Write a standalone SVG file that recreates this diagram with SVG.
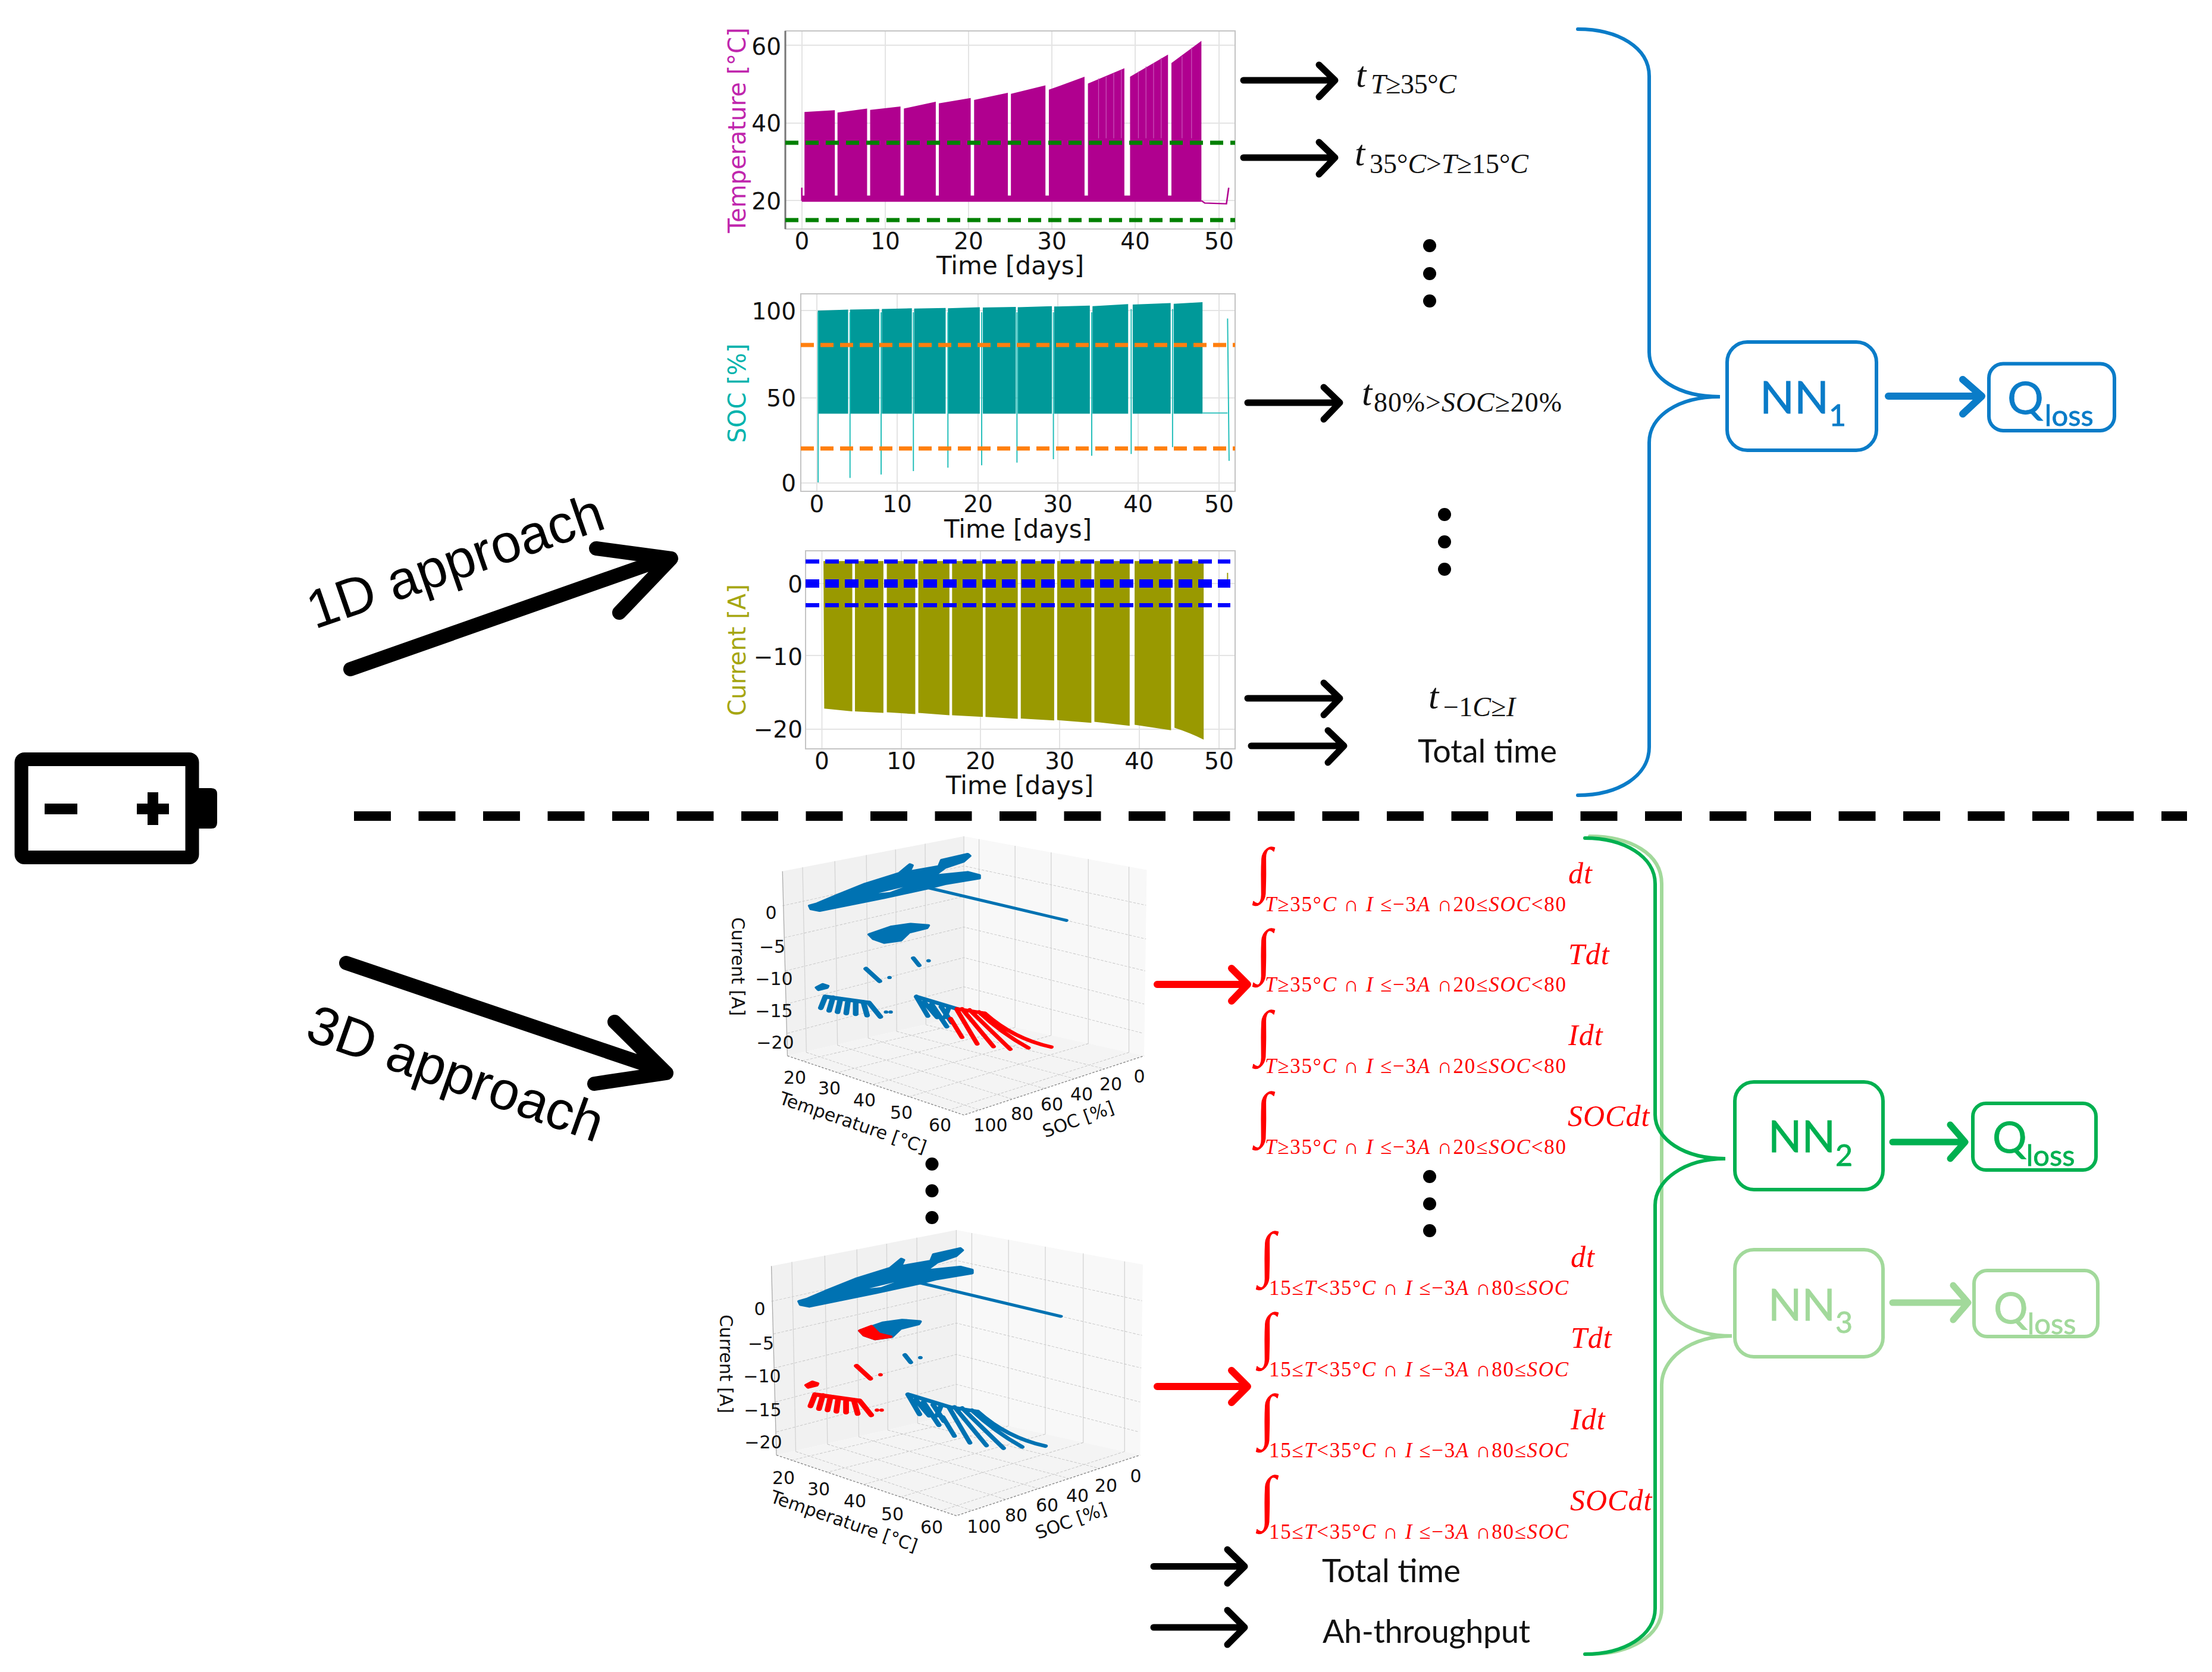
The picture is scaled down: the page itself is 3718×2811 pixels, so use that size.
<svg xmlns="http://www.w3.org/2000/svg" xmlns:xlink="http://www.w3.org/1999/xlink" width="3718" height="2811" viewBox="0 0 3718 2811">
<style>
text{fill:#111;font-family:"DejaVu Sans",sans-serif}
.tk{font-size:39px}
.tkm{text-anchor:middle}
.tke{text-anchor:end}
.ax{font-size:42px;text-anchor:middle}
.yl{font-size:40px;text-anchor:middle}
.t3{font-size:30px;text-anchor:middle}
.l3{font-size:30px}
.grid{stroke:#e4e4e4;stroke-width:2;fill:none}
.frame{stroke:#c4c4c4;stroke-width:2;fill:none}
.dg{stroke:#008000;stroke-width:7;stroke-dasharray:22 12;fill:none}
.do{stroke:#ff7f0e;stroke-width:7;stroke-dasharray:22 11;fill:none}
.db{stroke:#0000ff;stroke-width:7;stroke-dasharray:23 10;fill:none}
.cf{fill:currentColor;stroke:currentColor;stroke-width:10;stroke-linejoin:round}
.cd{fill:currentColor;stroke:none}
.cs{stroke:currentColor;fill:none;stroke-linecap:round;stroke-linejoin:round}
.blue{color:#0072b2}
.red{color:#ff0000}
.g3{stroke:#c6c6c6;stroke-width:2;fill:none;stroke-dasharray:7 4}
.v3{stroke:#d4d4d4;stroke-width:2;fill:none}
.arr{fill:none;stroke-linecap:round;stroke-linejoin:round}
.ak{stroke:#000;stroke-width:11}
.ar{stroke:#ff0000;stroke-width:12}
.brace{fill:none;stroke-linecap:round;stroke-width:6}
.box{fill:none;stroke-width:6}
.cb{color:#0a7cc8}
.cg{color:#00b050}
.cl{color:#a2d99b}
.box,.brace{stroke:currentColor}
.nt{fill:currentColor;stroke:currentColor;stroke-width:.8;font-family:Lato,"Liberation Sans",sans-serif}
.m{fill:#ff0000;font-family:"Liberation Serif","DejaVu Serif",serif}
.mk{fill:#111;font-family:"Liberation Serif","DejaVu Serif",serif}
.i{font-style:italic}
.int{font-size:102px;font-family:"Liberation Serif","DejaVu Serif",serif;fill:#ff0000}
.sub{font-size:35px}
.rv{font-size:50px;font-style:italic;letter-spacing:1px}
.tv{font-size:62px;font-style:italic}
.ts{font-size:46px}
.cal{font-family:Lato,"Liberation Sans",sans-serif;font-size:54px}
.ap{font-family:"Liberation Sans",Arial,sans-serif;font-size:91px;fill:#000}
</style>
<defs>
<g id="pane">
<polygon points="212,190 690,58 690,735 225,885" fill="#f1f1f1"/>
<polygon points="690,58 1172,185 1165,885 690,735" fill="#f8f8f8"/>
<polygon points="225,885 690,735 1165,885 690,1108" fill="#f4f4f4"/>
<path class="v3" d="M265 175L275 872M350 152L357 845M433 129L438 818M510 108L513 793M588 86L590 768M690 58V735M730 69V748M825 94V778M920 119V808M1018 144V839M1125 173V872"/>
<path class="g3" d="M212 320L690 170L1170 318M217 440L690 285L1170 445M220 565L690 400L1168 565M222 690L690 515L1165 690M225 800L690 625L1162 800"/>
<path class="g3" d="M275 872L731 1089M357 845L818 1048M438 818L902 1008M513 793L981 971M590 768L1060 934M730 748L264 904M825 778L357 948M920 808L450 993M1018 839L546 1039M1125 872L651 1089"/>
<path d="M225 885L690 1108L1165 885" fill="none" stroke="#8c8c8c" stroke-width="3" stroke-dasharray="6 4"/>
<path d="M212 190L225 885" fill="none" stroke="#aaa" stroke-width="2"/>
</g>
<g id="strip">
<path class="cf" d="M284 320L304 312L360 278L430 238L520 198L548 165L553 168L545 192L625 172L632 148L700 126L705 132L688 153L640 176L610 207L700 194L730 205L730 216L640 237L590 255L480 289L310 338L288 332Z"/>
<path fill="#f4f4f4" d="M465 272L530 250L495 268Z"/>
<line class="cs" x1="590" y1="250" x2="960" y2="375" stroke-width="11"/>
</g>
<path id="mid" class="cf" d="M441 428L500 399L550 389L596 394L592 403L545 420L523 450L480 458L452 444Z"/>
<path id="midtip" class="cf" d="M441 428L470 412L490 440L520 450L480 458L452 444Z"/>
<g id="bitsL">
<line class="cs" x1="432" y1="557" x2="468" y2="604" stroke-width="14"/>
<circle class="cd" cx="494" cy="590" r="6"/>
<path class="cf" d="M302 628L318 616L331 622L329 628L307 636Z"/>
</g>
<g id="bitsR">
<line class="cs" x1="557" y1="517" x2="572" y2="544" stroke-width="13"/>
<circle class="cd" cx="597" cy="527" r="6"/>
</g>
<g id="rakeL">
<path class="cs" stroke-width="15" d="M325 662L440 685M325 662L313 705M345 665L335 715M365 670L357 720M385 675L380 725M405 680L405 728M425 682L435 733M440 685L470 738"/>
<circle class="cd" cx="485" cy="720" r="6"/><circle class="cd" cx="497" cy="720" r="6"/>
</g>
<path id="rakeA" class="cs" stroke-width="14" d="M565 662L672 708M565 662L595 735M585 682L620 740M605 690L645 775M630 700L658 760M650 705L640 740"/>
<path id="rakeB" class="cs" stroke-width="13" d="M672 708L745 725M655 745L685 815M672 712L725 840M685 708L768 850M705 712L812 860M730 720Q790 800 860 855M745 725Q820 820 920 852"/>
</defs>

<rect width="3718" height="2811" fill="#fff"/>

<g id="battery">
<rect x="36" y="1276.5" width="287" height="165" rx="5" fill="none" stroke="#000" stroke-width="23"/>
<path d="M334 1325H355Q365 1325 365 1335V1383Q365 1393 355 1393H334Z" fill="#000"/>
<rect x="75" y="1351" width="55" height="18" fill="#000"/>
<rect x="230" y="1351" width="54" height="18" fill="#000"/>
<rect x="248" y="1332" width="18" height="55" fill="#000"/>
</g>

<g id="separator"><line x1="595" y1="1372" x2="3676" y2="1372" stroke="#000" stroke-width="16" stroke-dasharray="62 46.5"/></g>

<g id="label-1d"><text class="ap" transform="translate(529 1058) rotate(-19.1)">1D approach</text></g>
<g id="label-3d"><text class="ap" transform="translate(510 1747) rotate(19.5)">3D approach</text></g>

<g id="plot-temperature">
<path class="grid" d="M1348 52V385M1488 52V385M1628 52V385M1768 52V385M1908 52V385M2049 52V385M1320 76H2076M1320 207H2076M1320 337H2076"/>
<rect class="frame" x="1320" y="52" width="756" height="333"/>
<line x1="1320" y1="52" x2="1320" y2="385" stroke="#777" stroke-width="3"/>
<g transform="translate(1180 20) scale(.6378 .574)">
<path fill="#b0008f" d="M270 293L350 288V553H270ZM357 295L435 283V553H357ZM443 287L523 277V553H443ZM532 283L616 263V553H532ZM624 268L708 252V553H624ZM717 258L806 237V553H717ZM814 240L905 215V553H814ZM914 228L1008 190V553H914ZM1017 210L1113 165V553H1017ZM1128 190L1228 125V553H1128ZM1237 150L1316 85V553H1237ZM263 538H1316V556H263Z"/>
<path fill="none" stroke="#c850b8" stroke-width="2" d="M1045 195V370M1065 190V370M1085 180V370M1105 170V370M1150 175V370M1170 160V370M1190 150V370M1210 135V370M1265 130V370M1290 105V370"/>
<path fill="none" stroke="#b0008f" stroke-width="4" d="M263 515V553M1316 553L1325 560L1382 562L1388 515"/>
</g>
<line class="dg" x1="1320" y1="240" x2="2076" y2="240"/>
<line class="dg" x1="1320" y1="370" x2="2076" y2="370"/>
<text class="tk tke" x="1313" y="92">60</text><text class="tk tke" x="1313" y="221">40</text><text class="tk tke" x="1313" y="352">20</text>
<text class="tk tkm" x="1348" y="419">0</text><text class="tk tkm" x="1488" y="419">10</text><text class="tk tkm" x="1628" y="419">20</text><text class="tk tkm" x="1768" y="419">30</text><text class="tk tkm" x="1908" y="419">40</text><text class="tk tkm" x="2049" y="419">50</text>
<text class="ax" x="1698" y="461">Time [days]</text>
<text class="yl" style="fill:#c026ad" transform="translate(1253 219) rotate(-90)">Temperature [°C]</text>
</g>

<g id="plot-soc">
<path class="grid" d="M1373 494V826M1508 494V826M1644 494V826M1778 494V826M1913 494V826M2049 494V826M1346 522H2076M1346 669H2076M1346 812H2076"/>
<rect class="frame" x="1346" y="494" width="730" height="332"/>
<g transform="translate(1180 20) scale(.6378 .574)">
<path fill="#009999" d="M305 875L385 872V1177H305ZM390 872L467 870V1177H390ZM474 870L553 868V1177H474ZM559 869L642 867V1177H559ZM648 868L732 865V1177H648ZM740 866L827 864V1177H740ZM832 865L922 862V1177H832ZM928 863L1022 860V1177H928ZM1029 862L1123 856V1177H1029ZM1135 857L1235 853V1177H1135ZM1243 855L1319 850V1177H1243Z"/>
<path fill="none" stroke="#1fbdb8" stroke-width="3" d="M306 880V1378M390 880V1365M472 880V1355M557 880V1345M648 880V1335M737 880V1328M830 880V1320M926 880V1310M1027 880V1300M1131 870V1295M1240 870V1275M1319 1175H1385M1385 898L1389 1315"/>
</g>
<line class="do" x1="1346" y1="580" x2="2076" y2="580"/>
<line class="do" x1="1346" y1="754" x2="2076" y2="754"/>
<text class="tk tke" x="1338" y="537">100</text><text class="tk tke" x="1338" y="683">50</text><text class="tk tke" x="1338" y="826">0</text>
<text class="tk tkm" x="1373" y="861">0</text><text class="tk tkm" x="1508" y="861">10</text><text class="tk tkm" x="1644" y="861">20</text><text class="tk tkm" x="1778" y="861">30</text><text class="tk tkm" x="1913" y="861">40</text><text class="tk tkm" x="2049" y="861">50</text>
<text class="ax" x="1711" y="904">Time [days]</text>
<text class="yl" style="fill:#00b3ad" transform="translate(1253 661) rotate(-90)">SOC [%]</text>
</g>

<g id="plot-current">
<path class="grid" d="M1381.5 926V1259M1515 926V1259M1648 926V1259M1781 926V1259M1915 926V1259M2049 926V1259M1354 981H2076M1354 1102H2076M1354 1226H2076"/>
<rect class="frame" x="1354" y="926" width="722" height="333"/>
<g transform="translate(1180 900) scale(.6378 .3318)">
<path fill="#999900" d="M320 130H396V892L322 878ZM403 130H478V900L403 892ZM487 130H562V906L487 897ZM570 130H652V912L570 900ZM659 130H740V920L659 912ZM747 130H832V930L747 920ZM840 130H928V938L840 928ZM936 130H1026V950L936 936ZM1034 130H1127V965L1034 945ZM1140 130H1236V988L1140 960ZM1245 130H1322V1035Q1285 1000 1245 975Z"/>
<line x1="1385" y1="190" x2="1385" y2="265" stroke="#999900" stroke-width="3"/>
</g>
<line class="db" x1="1354" y1="944" x2="2068" y2="944"/>
<line class="db" x1="1354" y1="981" x2="2068" y2="981" style="stroke-width:14"/>
<line class="db" x1="1354" y1="1017.5" x2="2068" y2="1017.5"/>
<text class="tk tke" x="1349" y="996">0</text><text class="tk tke" x="1349" y="1118">−10</text><text class="tk tke" x="1349" y="1240">−20</text>
<text class="tk tkm" x="1381.5" y="1293">0</text><text class="tk tkm" x="1515" y="1293">10</text><text class="tk tkm" x="1648" y="1293">20</text><text class="tk tkm" x="1781" y="1293">30</text><text class="tk tkm" x="1915" y="1293">40</text><text class="tk tkm" x="2049" y="1293">50</text>
<text class="ax" x="1714" y="1335">Time [days]</text>
<text class="yl" style="fill:#a6a610" transform="translate(1253 1093) rotate(-90)">Current [A]</text>
</g>

<g id="plot-3d-top">
<g transform="translate(1180 1380) scale(.6378 .4464)">
<use xlink:href="#pane"/>
<use xlink:href="#strip" class="blue"/>
<use xlink:href="#mid" class="blue"/>
<use xlink:href="#bitsL" class="blue"/>
<use xlink:href="#bitsR" class="blue"/>
<use xlink:href="#rakeL" class="blue"/>
<use xlink:href="#rakeA" class="blue"/>
<use xlink:href="#rakeB" class="red"/>
</g>
<text class="t3" x="1296" y="1545">0</text><text class="t3" x="1298" y="1602">−5</text><text class="t3" x="1301" y="1656">−10</text><text class="t3" x="1301" y="1710">−15</text><text class="t3" x="1303" y="1763">−20</text>
<text class="t3" transform="translate(1230 1625) rotate(90)">Current [A]</text>
<text class="t3" x="1336" y="1822">20</text><text class="t3" x="1394" y="1840">30</text><text class="t3" x="1453" y="1860">40</text><text class="t3" x="1515" y="1881">50</text><text class="t3" x="1580" y="1902">60</text>
<text class="t3" x="1665" y="1902">100</text><text class="t3" x="1718" y="1883">80</text><text class="t3" x="1768" y="1867">60</text><text class="t3" x="1818" y="1850">40</text><text class="t3" x="1867" y="1833">20</text><text class="t3" x="1915" y="1820">0</text>
<text class="l3" transform="translate(1308 1855) rotate(19)">Temperature [°C]</text>
<text class="l3" transform="translate(1757 1913) rotate(-20)">SOC [%]</text>
</g>

<g id="dots-3d"><circle cx="1566.5" cy="1957" r="11"/><circle cx="1566.5" cy="2002" r="11"/><circle cx="1566.5" cy="2047" r="11"/></g>

<g id="plot-3d-bottom">
<g transform="translate(1158.7 2041.5) scale(.6503 .4574)">
<use xlink:href="#pane"/>
<use xlink:href="#strip" class="blue"/>
<use xlink:href="#mid" class="blue"/>
<use xlink:href="#midtip" class="red"/>
<use xlink:href="#bitsL" class="red"/>
<use xlink:href="#bitsR" class="blue"/>
<use xlink:href="#rakeL" class="red"/>
<use xlink:href="#rakeA" class="blue"/>
<use xlink:href="#rakeB" class="blue"/>
</g>
<text class="t3" x="1277" y="2211">0</text><text class="t3" x="1279" y="2269">−5</text><text class="t3" x="1281" y="2324">−10</text><text class="t3" x="1282" y="2381">−15</text><text class="t3" x="1283" y="2435">−20</text>
<text class="t3" transform="translate(1210 2293) rotate(90)">Current [A]</text>
<text class="t3" x="1317" y="2495">20</text><text class="t3" x="1376" y="2514">30</text><text class="t3" x="1437" y="2534">40</text><text class="t3" x="1500" y="2556">50</text><text class="t3" x="1566" y="2578">60</text>
<text class="t3" x="1654" y="2577">100</text><text class="t3" x="1708" y="2558">80</text><text class="t3" x="1760" y="2541">60</text><text class="t3" x="1811" y="2525">40</text><text class="t3" x="1859" y="2508">20</text><text class="t3" x="1909" y="2492">0</text>
<text class="l3" transform="translate(1293 2525) rotate(19)">Temperature [°C]</text>
<text class="l3" transform="translate(1745 2588) rotate(-20)">SOC [%]</text>
</g>

<g id="features-1d">
<text class="mk tv" x="2279" y="146">t</text><text class="mk ts" x="2304" y="157" textLength="144"><tspan class="i">T</tspan>≥35°<tspan class="i">C</tspan></text>
<text class="mk tv" x="2277" y="278">t</text><text class="mk ts" x="2302" y="291" textLength="267">35°<tspan class="i">C</tspan>&gt;<tspan class="i">T</tspan>≥15°<tspan class="i">C</tspan></text>
<text class="mk tv" x="2289" y="681">t</text><text class="mk ts" x="2309" y="692" textLength="316">80%&gt;<tspan class="i">SOC</tspan>≥20%</text>
<text class="mk tv" x="2401" y="1191">t</text><text class="mk ts" x="2426" y="1204" textLength="121">−1<tspan class="i">C</tspan>≥<tspan class="i">I</tspan></text>
<text class="cal" x="2383" y="1282" textLength="234">Total time</text>
<circle cx="2403" cy="413" r="11"/><circle cx="2403" cy="460" r="11"/><circle cx="2403" cy="506" r="11"/>
<circle cx="2428" cy="865" r="11"/><circle cx="2428" cy="911" r="11"/><circle cx="2428" cy="957" r="11"/>
</g>

<g id="features-3d-top">
<text class="int" x="2110" y="1496">∫</text><text class="int" x="2110" y="1633">∫</text><text class="int" x="2110" y="1770">∫</text><text class="int" x="2110" y="1907">∫</text>
<text class="m sub" x="2126" y="1532" textLength="506"><tspan class="i">T</tspan>≥35°<tspan class="i">C</tspan> ∩ <tspan class="i">I</tspan> ≤−3<tspan class="i">A</tspan> ∩20≤<tspan class="i">SOC</tspan>&lt;80</text>
<text class="m sub" x="2126" y="1667" textLength="506"><tspan class="i">T</tspan>≥35°<tspan class="i">C</tspan> ∩ <tspan class="i">I</tspan> ≤−3<tspan class="i">A</tspan> ∩20≤<tspan class="i">SOC</tspan>&lt;80</text>
<text class="m sub" x="2126" y="1804" textLength="506"><tspan class="i">T</tspan>≥35°<tspan class="i">C</tspan> ∩ <tspan class="i">I</tspan> ≤−3<tspan class="i">A</tspan> ∩20≤<tspan class="i">SOC</tspan>&lt;80</text>
<text class="m sub" x="2126" y="1940" textLength="506"><tspan class="i">T</tspan>≥35°<tspan class="i">C</tspan> ∩ <tspan class="i">I</tspan> ≤−3<tspan class="i">A</tspan> ∩20≤<tspan class="i">SOC</tspan>&lt;80</text>
<text class="m rv" x="2636" y="1485">dt</text><text class="m rv" x="2636" y="1621">Tdt</text><text class="m rv" x="2636" y="1757">Idt</text><text class="m rv" x="2635" y="1893">SOCdt</text>
<circle cx="2403" cy="1978" r="11"/><circle cx="2403" cy="2024" r="11"/><circle cx="2403" cy="2069" r="11"/>
</g>

<g id="features-3d-bottom">
<text class="int" x="2116" y="2142">∫</text><text class="int" x="2116" y="2278">∫</text><text class="int" x="2116" y="2415">∫</text><text class="int" x="2116" y="2552">∫</text>
<text class="m sub" x="2133" y="2177" textLength="503">15≤<tspan class="i">T</tspan>&lt;35°<tspan class="i">C</tspan> ∩ <tspan class="i">I</tspan> ≤−3<tspan class="i">A</tspan> ∩80≤<tspan class="i">SOC</tspan></text>
<text class="m sub" x="2133" y="2314" textLength="503">15≤<tspan class="i">T</tspan>&lt;35°<tspan class="i">C</tspan> ∩ <tspan class="i">I</tspan> ≤−3<tspan class="i">A</tspan> ∩80≤<tspan class="i">SOC</tspan></text>
<text class="m sub" x="2133" y="2450" textLength="503">15≤<tspan class="i">T</tspan>&lt;35°<tspan class="i">C</tspan> ∩ <tspan class="i">I</tspan> ≤−3<tspan class="i">A</tspan> ∩80≤<tspan class="i">SOC</tspan></text>
<text class="m sub" x="2133" y="2587" textLength="503">15≤<tspan class="i">T</tspan>&lt;35°<tspan class="i">C</tspan> ∩ <tspan class="i">I</tspan> ≤−3<tspan class="i">A</tspan> ∩80≤<tspan class="i">SOC</tspan></text>
<text class="m rv" x="2640" y="2130">dt</text><text class="m rv" x="2640" y="2266">Tdt</text><text class="m rv" x="2640" y="2403">Idt</text><text class="m rv" x="2639" y="2539">SOCdt</text>
<text class="cal" x="2222" y="2660" textLength="233">Total time</text>
<text class="cal" x="2223" y="2762" textLength="349">Ah-throughput</text>
</g>

<g id="nn1" class="cb"><rect class="box" x="2903" y="575" width="251" height="182" rx="34"/><text class="nt" x="2958" y="695" font-size="76">NN<tspan font-size="50" dy="21">1</tspan></text></g>
<g id="qloss1" class="cb"><rect class="box" x="3343" y="611.5" width="211" height="112.5" rx="24"/><text class="nt" x="3374" y="696" font-size="76">Q<tspan font-size="49" dy="20" dx="2">loss</tspan></text></g>
<g id="nn2" class="cg"><rect class="box" x="2916" y="1819" width="249" height="181" rx="32"/><text class="nt" x="2972" y="1937" font-size="74">NN<tspan font-size="50" dy="23">2</tspan></text></g>
<g id="qloss2" class="cg"><rect class="box" x="3316" y="1855" width="207" height="112" rx="22"/><text class="nt" x="3349" y="1938" font-size="72">Q<tspan font-size="49" dy="22" dx="-1">loss</tspan></text></g>
<g id="nn3" class="cl"><rect class="box" x="2916" y="2101" width="249" height="180" rx="32"/><text class="nt" x="2972" y="2220" font-size="74">NN<tspan font-size="50" dy="21">3</tspan></text></g>
<g id="qloss3" class="cl"><rect class="box" x="3318" y="2136" width="208" height="111" rx="22"/><text class="nt" x="3351" y="2225" font-size="72">Q<tspan font-size="49" dy="18" dx="-1">loss</tspan></text></g>

<g id="connectors">
<path class="arr" stroke="#000" stroke-width="24" d="M589 1125L1095 947M1002 922L1128 939L1041 1030"/>
<path class="arr" stroke="#000" stroke-width="24" d="M582 1619L1095 1793M1033 1718L1120 1804L999 1822"/>
<path class="arr ak" d="M2090 135H2240M2217 109L2244 135L2217 163"/>
<path class="arr ak" d="M2090 265H2240M2217 239L2244 265L2217 293"/>
<path class="arr ak" d="M2097 677H2248M2225 651L2252 677L2225 705"/>
<path class="arr ak" d="M2097 1174H2248M2225 1148L2252 1174L2225 1202"/>
<path class="arr ak" d="M2103 1254H2255M2232 1228L2259 1254L2232 1282"/>
<path class="arr ar" d="M1945 1655H2092M2070 1628L2097 1655L2070 1683"/>
<path class="arr ar" d="M1945 2331H2092M2070 2304L2097 2331L2070 2358"/>
<path class="arr ak" d="M1939 2633.5H2088M2063 2605L2092 2633.5L2063 2662"/>
<path class="arr ak" d="M1939 2736H2088M2063 2707L2092 2736L2063 2765"/>
<path class="brace cb" d="M2652 49C2720 49 2772 80 2772 128V592C2772 635 2820 667 2891 667C2820 667 2772 700 2772 744V1256C2772 1305 2720 1337 2652 1337"/>
<path class="arr" stroke="#0a7cc8" stroke-width="12" d="M3174 666H3326M3299 638L3331 666L3299 696"/>
<path class="brace cl" d="M2672 1406C2740 1406 2793 1435 2793 1486V2170C2793 2212 2840 2246 2911 2246C2840 2246 2793 2285 2793 2328V2704C2793 2750 2740 2781 2672 2781"/>
<path class="brace cg" d="M2664 1409C2730 1409 2782 1440 2782 1486V1874C2782 1915 2830 1948 2900 1948C2830 1948 2782 1985 2782 2026V2704C2782 2750 2730 2781 2664 2781"/>
<path class="arr" stroke="#00b050" stroke-width="11" d="M3181 1920H3298M3278 1891L3303 1920L3278 1948"/>
<path class="arr" stroke="#a2d99b" stroke-width="11" d="M3181 2190H3304M3283 2161L3308 2190L3283 2219"/>
</g>
</svg>
